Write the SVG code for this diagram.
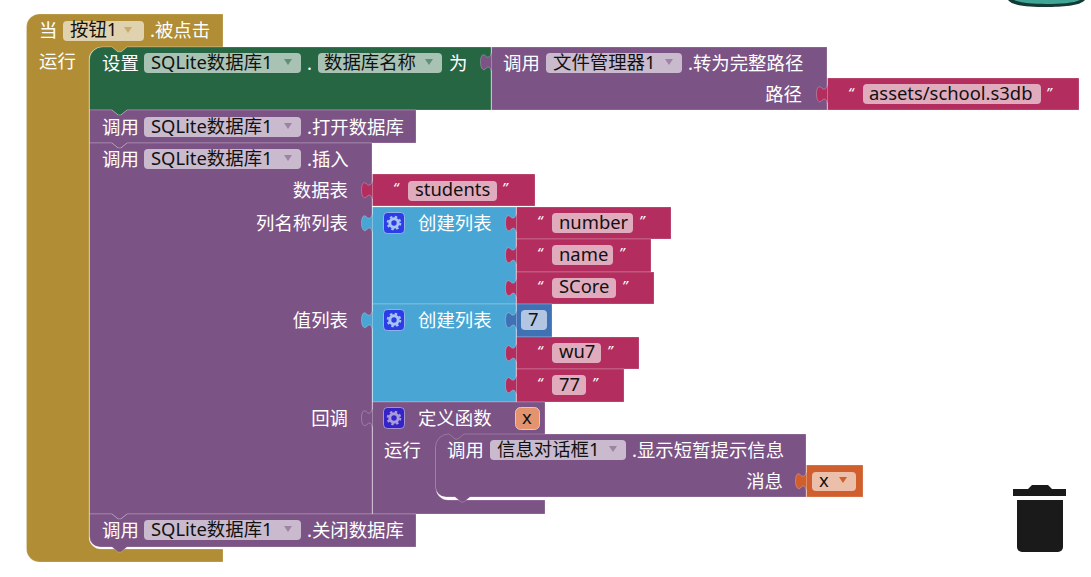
<svg xmlns="http://www.w3.org/2000/svg" width="1091" height="577" viewBox="0 0 1091 577">
<style>
text{font-family:"Noto Sans","Noto Sans CJK SC",sans-serif;font-size:18.4px}
.l{fill:#fff;transform:translateY(.8px)}
.d{fill:#111}
.r{text-anchor:end}
.q{fill:#fff;font-size:15px;font-style:italic}
.b{stroke:#fff;stroke-opacity:.22;stroke-width:1}
.gold{fill:#b18e35}.green{fill:#266643}.pur{fill:#7c5385}.pink{fill:#b32d5e}.blue{fill:#49a6d4}.num{fill:#3f71b5}.org{fill:#d05f2d}
.f{fill:#fff;fill-opacity:.6}
.t{fill-opacity:.55}
</style>
<defs>
<path id="tab" d="M0 2C-1 8-4 8-6 6C-8 3-11 5-11 12S-8 21-6 19C-4 16-1 16 0 22" stroke="#fff" stroke-opacity=".25"/>
<path id="tri" d="M-4 -3H4L0 3z"/>
<g id="gear"><rect x="-10.500" y="-10.500" width="21" height="21" rx="4" stroke="#fff" stroke-opacity=".45"/><circle r="4.200" fill="none" stroke="currentColor" stroke-width="3"/><circle r="6.300" fill="none" stroke="currentColor" stroke-width="2" stroke-dasharray="2.470 2.480"/></g>
</defs>

<g id="scene-top"><path d="M1008 0C1012 6 1030 7 1046 7S1080 6 1085 0z" fill="#143a35"/><path d="M1014 0C1020 3 1032 4 1046 4S1074 3 1080 0z" fill="#3fa596"/></g>

<g id="when-click">
<path class="gold b" d="M26.500 27a13 13 0 0 1 13-13H223V47H127l-6 5h-3l-6-5H102a13 13 0 0 0-13 13V537a12 12 0 0 0 12 12H223v13H39.500a13 13 0 0 1-13-13z"/>
<text class="l" x="39" y="36">当</text><rect class="f" x="63" y="21" width="81" height="20" rx="4"/><text class="d" x="70" y="36">按钮1</text><use href="#tri" x="128" y="30" class="gold t"/><text class="l" x="150" y="36">.被点击</text>
<text class="l" x="39" y="67">运行</text>
</g>

<g id="set-db-name">
<path class="green b" d="M89.500 60a13 13 0 0 1 13-13H112l6 5h3l6-5H491V110H127l-6 5h-3l-6-5H89.500z"/>
<text class="l" x="102" y="69">设置</text><rect class="f" x="144" y="53" width="157" height="20" rx="4"/><text class="d" x="151" y="69">SQLite数据库1</text><use href="#tri" x="288" y="62" class="green t"/>
<text class="l" x="307" y="69">.</text><rect class="f" x="318" y="53" width="124" height="20" rx="4"/><text class="d" x="324" y="69">数据库名称</text><use href="#tri" x="429" y="62" class="green t"/>
<text class="l" x="449" y="69">为</text>
</g>

<g id="resolve-path">
<path class="pur b" d="M491.500 47H827V110H491.500z"/><use href="#tab" x="491.500" y="50" class="pur"/>
<text class="l" x="503" y="69">调用</text><rect class="f" x="546" y="53" width="136" height="20" rx="4"/><text class="d" x="553" y="69">文件管理器1</text><use href="#tri" x="669" y="62" class="pur t"/><text class="l" x="688" y="69">.转为完整路径</text>
<text class="l r" x="802" y="100">路径</text>
</g>

<g id="path-text">
<path class="pink b" d="M827.500 78H1079V110H827.500z"/><use href="#tab" x="827.500" y="82" class="pink"/>
<text class="q" x="848" y="98">“</text><rect class="f" x="863" y="84" width="178" height="20" rx="4"/><text class="d" x="869" y="100">assets/school.s3db</text><text class="q" x="1046" y="98">”</text>
</g>

<g id="open-db">
<path class="pur b" d="M89.500 110H112l6 5h3l6-5H416V143H127l-6 5h-3l-6-5H89.500z"/>
<text class="l" x="102" y="133">调用</text><rect class="f" x="144" y="117" width="157" height="20" rx="4"/><text class="d" x="151" y="133">SQLite数据库1</text><use href="#tri" x="288" y="126" class="pur t"/><text class="l" x="307" y="133">.打开数据库</text>
</g>

<g id="insert">
<path class="pur b" d="M89.500 143H112l6 5h3l6-5H372V514H127l-6 5h-3l-6-5H89.500z"/>
<text class="l" x="102" y="165">调用</text><rect class="f" x="144" y="149" width="157" height="20" rx="4"/><text class="d" x="151" y="165">SQLite数据库1</text><use href="#tri" x="288" y="158" class="pur t"/><text class="l" x="307" y="165">.插入</text>
<text class="l r" x="348" y="196">数据表</text><text class="l r" x="348" y="229">列名称列表</text><text class="l r" x="348" y="326">值列表</text><text class="l r" x="348" y="424">回调</text>
</g>

<g id="students">
<path class="pink b" d="M372.500 174H535V206H372.500z"/><use href="#tab" x="372.500" y="178" class="pink"/>
<text class="q" x="393" y="193">“</text><rect class="f" x="408" y="181" width="89" height="20" rx="4"/><text class="d" x="415" y="196">students</text><text class="q" x="502" y="193">”</text>
</g>

<g id="list-columns">
<path class="blue b" d="M372.500 207H516V304H372.500z"/><use href="#tab" x="372.500" y="211" class="blue"/>
<use href="#gear" x="394" y="223" fill="#2a3de6" color="#a9c4f2"/><text class="l" x="418" y="229">创建列表</text>
</g>
<g id="s-number"><path class="pink b" d="M516.500 207H671V239H516.500z"/><use href="#tab" x="516.500" y="211" class="pink"/><text class="q" x="537" y="226">“</text><rect class="f" x="552" y="213" width="81" height="20" rx="4"/><text class="d" x="559" y="229">number</text><text class="q" x="639" y="226">”</text></g>
<g id="s-name"><path class="pink b" d="M516.500 239H651V272H516.500z"/><use href="#tab" x="516.500" y="243" class="pink"/><text class="q" x="537" y="258">“</text><rect class="f" x="552" y="245" width="61" height="20" rx="4"/><text class="d" x="559" y="261">name</text><text class="q" x="619" y="258">”</text></g>
<g id="s-score"><path class="pink b" d="M516.500 272H654V304H516.500z"/><use href="#tab" x="516.500" y="276" class="pink"/><text class="q" x="537" y="291">“</text><rect class="f" x="552" y="278" width="64" height="20" rx="4"/><text class="d" x="559" y="293">SCore</text><text class="q" x="622" y="291">”</text></g>

<g id="list-values">
<path class="blue b" d="M372.500 304H516V402H372.500z"/><use href="#tab" x="372.500" y="308" class="blue"/>
<use href="#gear" x="394" y="320" fill="#2a3de6" color="#a9c4f2"/><text class="l" x="418" y="326">创建列表</text>
</g>
<g id="n-7"><path class="num b" d="M516.500 304H552V337H516.500z"/><use href="#tab" x="516.500" y="308" class="num"/><rect class="f" x="521" y="310" width="26" height="20" rx="4"/><text class="d" x="528" y="326">7</text></g>
<g id="s-wu7"><path class="pink b" d="M516.500 337H639V369H516.500z"/><use href="#tab" x="516.500" y="341" class="pink"/><text class="q" x="537" y="356">“</text><rect class="f" x="552" y="343" width="49" height="20" rx="4"/><text class="d" x="559" y="358">wu7</text><text class="q" x="607" y="356">”</text></g>
<g id="s-77"><path class="pink b" d="M516.500 369H624V402H516.500z"/><use href="#tab" x="516.500" y="373" class="pink"/><text class="q" x="537" y="388">“</text><rect class="f" x="552" y="375" width="34" height="20" rx="4"/><text class="d" x="559" y="391">77</text><text class="q" x="592" y="388">”</text></g>

<g id="func">
<path class="pur b" d="M372.500 402H545V447H436V488a12 12 0 0 0 12 12H545V514H372.500z"/><use href="#tab" x="372.500" y="406" class="pur"/>
<use href="#gear" x="394" y="418" fill="#3423c6" color="#a99bdb"/><text class="l" x="418" y="424">定义函数</text>
<rect x="515.500" y="407.500" width="24" height="22" rx="5" fill="#e3946f" stroke="#efc2ab"/><text class="d" x="522" y="424">x</text>
<text class="l" x="384" y="456">运行</text>
</g>

<g id="show-alert">
<path class="pur b" d="M435.500 447a13 13 0 0 1 13-13H449l6 5h3l6-5H806V497H470l-6 5h-3l-6-5H446a10.500 10.500 0 0 1-10.500-10.500z"/>
<text class="l" x="447" y="456">调用</text><rect class="f" x="490" y="440" width="136" height="20" rx="4"/><text class="d" x="497" y="456">信息对话框1</text><use href="#tri" x="613" y="449" class="pur t"/><text class="l" x="632" y="456">.显示短暂提示信息</text>
<text class="l r" x="783" y="487">消息</text>
</g>
<g id="var-x"><path class="org b" d="M806.500 465H863V497H806.500z"/><use href="#tab" x="806.500" y="469" class="org"/><rect class="f" x="812" y="472" width="44" height="19" rx="4"/><text class="d" x="819" y="487">x</text><use href="#tri" x="843" y="480" class="org"/></g>

<g id="close-db">
<path class="pur b" d="M89.500 514H112l6 5h3l6-5H416V547H127l-6 5h-3l-6-5H100a10.500 10.500 0 0 1-10.500-10.500z"/>
<text class="l" x="102" y="536">调用</text><rect class="f" x="144" y="520" width="157" height="20" rx="4"/><text class="d" x="151" y="536">SQLite数据库1</text><use href="#tri" x="288" y="529" class="pur t"/><text class="l" x="307" y="536">.关闭数据库</text>
</g>

<g id="trash" fill="#1a1a1a"><path d="M1013 489H1028L1032 485H1048L1052 489H1066V496H1013z"/><path d="M1017 500H1063V547a5 5 0 0 1-5 5H1022a5 5 0 0 1-5-5z"/></g>
</svg>
